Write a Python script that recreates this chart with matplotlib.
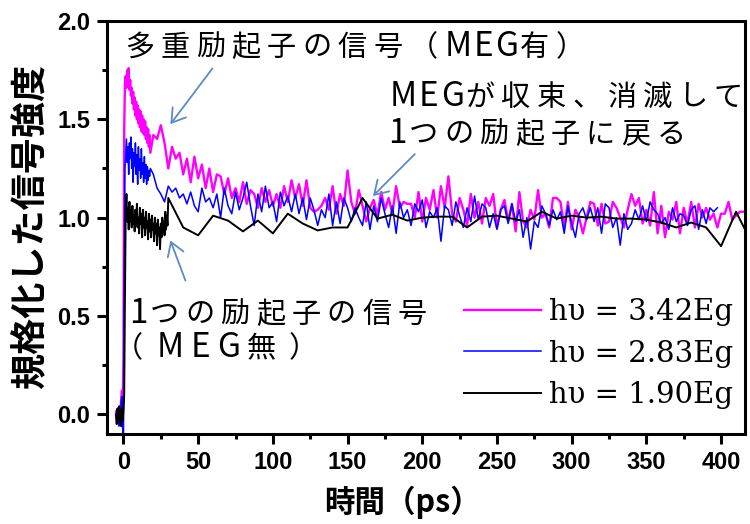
import numpy as np
import matplotlib
matplotlib.use("Agg")
import matplotlib.pyplot as plt
from matplotlib.font_manager import findfont, FontProperties, get_font

plt.rcParams['font.family'] = ['Liberation Sans', 'Noto Sans CJK JP', 'DejaVu Sans']

# ---------------- data ----------------
labels = ["hυ = 3.42Eg", "hυ = 2.83Eg", "hυ = 1.90Eg"]

# dense part (t = -5 ... , step 0.5 ps)
mag_dense = [0.0, 0.02, -0.01, 0.03, 0.0, 0.04, 0.02, 0.08, 0.12, 0.05,
             0.3, 1.45, 1.68, 1.72, 1.66, 1.75, 1.70, 1.76, 1.65, 1.70,
             1.62, 1.66, 1.58, 1.64, 1.55, 1.61, 1.52, 1.59, 1.50, 1.57,
             1.48, 1.55, 1.46, 1.54, 1.44, 1.52, 1.43, 1.50, 1.42, 1.49,
             1.40, 1.46, 1.38, 1.45, 1.36, 1.42, 1.33]
# sparse part (t = 20 ... , step 2.5 ps)
mag_sparse = [1.42, 1.40, 1.47, 1.38, 1.25, 1.36, 1.30, 1.33, 1.22, 1.30,
              1.18, 1.31, 1.20, 1.27, 1.15, 1.25, 1.13, 1.22, 1.21, 1.12,
              1.20, 1.10, 1.15, 1.08, 1.18, 1.07, 1.14, 1.12, 1.05, 1.15,
              1.08, 1.14, 1.06, 1.12, 1.05, 1.16, 1.08, 1.19, 1.10, 1.17,
              1.06, 1.19, 1.05, 1.03, 1.04, 1.06, 1.10, 1.04, 1.16, 1.02,
              1.12, 1.06, 1.24, 1.08, 1.02, 1.14, 1.06, 0.98, 1.05, 1.09,
              1.01, 1.13, 1.04, 1.10, 1.02, 1.16, 1.05, 1.08, 1.07, 1.07,
              1.00, 1.13, 0.98, 1.10, 1.04, 1.14, 1.00, 1.16, 1.05, 1.21,
              1.02, 0.98, 1.10, 1.04, 0.96, 1.12, 1.00, 1.08, 0.97, 1.10,
              1.06, 1.12, 0.95, 1.04, 1.09, 0.98, 1.07, 0.93, 1.13, 0.98,
              0.95, 1.04, 0.99, 1.14, 1.00, 1.02, 0.95, 1.10, 1.10, 1.08,
              0.95, 1.08, 0.94, 1.04, 1.00, 0.92, 1.00, 1.08, 1.07, 0.96,
              1.07, 0.97, 0.98, 1.08, 1.05, 1.00, 0.95, 1.04, 1.12, 1.06,
              1.10, 0.97, 1.04, 0.96, 1.13, 0.92, 1.06, 0.90, 1.03, 0.99,
              1.08, 0.92, 1.05, 0.97, 1.08, 0.95, 1.07, 1.00, 1.05, 0.99,
              1.02, 0.95, 1.02, 1.02, 1.08, 0.99, 1.01, 1.03, 1.03]

blue_dense = [-0.02, 0.01, -0.04, 0.02, -0.06, 0.03, 0.0, 0.07, 0.09, -0.08,
              -0.15, 0.75, 1.25, 1.32, 1.40, 1.28, 1.36, 1.22, 1.38, 1.30,
              1.41, 1.25, 1.35, 1.18, 1.33, 1.26, 1.38, 1.22, 1.32, 1.17,
              1.36, 1.24, 1.30, 1.20, 1.35, 1.22, 1.28, 1.18, 1.31, 1.20,
              1.27, 1.17, 1.26, 1.19, 1.24, 1.21, 1.25]
blue_sparse = [1.22, 1.15, 1.12, 1.08, 1.16, 1.13, 1.15, 1.10, 1.12, 1.07,
               1.13, 1.06, 1.03, 1.15, 1.08, 1.10, 1.05, 1.12, 1.00, 1.15,
               1.06, 1.02, 1.13, 1.04, 1.10, 1.18, 1.06, 0.96, 1.12, 1.03,
               1.16, 1.05, 1.08, 0.98, 1.13, 1.06, 1.11, 1.03, 1.12, 1.02,
               1.10, 0.99, 1.10, 1.04, 0.96, 1.04, 1.00, 1.12, 0.96, 1.08,
               0.97, 1.10, 1.05, 0.98, 1.05, 1.00, 0.96, 1.08, 0.94, 1.06,
               0.98, 1.10, 1.02, 0.95, 1.06, 0.92, 1.08, 1.00, 1.04, 0.96,
               1.07, 1.03, 1.09, 0.95, 1.03, 1.00, 1.05, 0.88, 1.06, 1.04,
               0.96, 1.08, 1.01, 0.95, 1.05, 0.98, 1.11, 0.99, 1.07, 1.05,
               0.95, 1.02, 0.94, 1.04, 1.06, 0.97, 1.07, 0.98, 1.04, 0.90,
               1.00, 0.84, 0.98, 0.95, 1.06, 1.02, 0.96, 1.04, 0.99, 1.03,
               0.92, 1.06, 0.97, 0.90, 1.02, 1.05, 0.99, 1.05, 0.98, 1.05,
               0.92, 1.07, 1.05, 0.95, 1.00, 0.86, 1.02, 0.94, 0.97, 1.04,
               0.99, 1.06, 0.98, 1.08, 1.04, 1.02, 0.97, 1.00, 0.94, 1.05,
               0.98, 1.02, 1.01, 0.96, 1.04, 1.06, 0.94, 1.04, 0.97, 1.05,
               1.03, 1.05]

black_dense = [0.0, -0.05, 0.03, -0.02, 0.04, -0.04, 0.02, -0.06, 0.03, -0.03,
               0.02, 0.1, 0.6, 1.02, 1.12, 0.98, 1.05, 0.94, 1.08, 0.98,
               1.03, 0.95, 1.06, 0.97, 1.01, 0.93, 1.04, 0.96, 1.07, 0.95,
               1.00, 0.92, 1.05, 0.97, 1.02, 0.90, 1.04, 0.95, 1.00, 0.91,
               1.03, 0.95, 0.98, 0.89, 1.02, 0.93, 0.99, 0.90, 1.01, 0.94,
               0.97, 0.88, 1.00, 0.92, 0.97, 0.86, 0.99, 0.91, 0.95, 0.84,
               0.97, 0.90, 1.00, 0.93, 0.98, 0.91, 1.03, 0.94, 1.01, 0.96,
               1.10]
# sparse part (t = 40 ... , step 10 ps)
black_sparse = [0.95, 0.91, 1.01, 0.985, 0.93, 0.985, 0.92, 1.02, 0.97, 0.935,
                0.95, 0.95, 1.10, 0.995, 1.015, 0.985, 1.0, 1.005, 1.005, 0.95,
                1.005, 1.01, 0.995, 0.98, 1.03, 0.995, 1.01, 1.0, 1.005, 0.995,
                0.995, 0.99, 0.975, 0.95, 0.975, 0.95, 0.855, 1.03, 0.88]

def build(dense, t0_dense, dt_dense, sparse, t0_sparse, dt_sparse):
    td = t0_dense + dt_dense * np.arange(len(dense))
    ts = t0_sparse + dt_sparse * np.arange(len(sparse))
    return np.concatenate([td, ts]), np.concatenate([dense, sparse])

t_mag, y_mag = build(mag_dense, -5.0, 0.5, mag_sparse, 20.0, 2.5)
t_blue, y_blue = build(blue_dense, -5.0, 0.5, blue_sparse, 20.0, 2.5)
t_blk, y_blk = build(black_dense, -5.0, 0.5, black_sparse, 40.0, 10.0)

# ---------------- figure ----------------
W, H, DPI = 750, 524, 100
fig = plt.figure(figsize=(W / DPI, H / DPI), dpi=DPI)
ax = fig.add_axes([0.1427, 0.1718, 0.8506, 0.7882])

l1, = ax.plot(t_mag, y_mag, color='#FF00FF', lw=1.7, label=labels[0])
l2, = ax.plot(t_blue, y_blue, color='#0000FF', lw=1.1, label=labels[1])
l3, = ax.plot(t_blk, y_blk, color='black', lw=1.4, label=labels[2])

ax.set_xlim(-11, 416)
ax.set_ylim(-0.1, 2.0)
ax.set_xticks(np.arange(0, 401, 50))
ax.set_xticks(np.arange(25, 401, 50), minor=True)
ax.set_yticks([0.0, 0.5, 1.0, 1.5, 2.0])
ax.set_yticks([0.25, 0.75, 1.25, 1.75], minor=True)
ax.set_yticklabels(['0.0', '0.5', '1.0', '1.5', '2.0'])

for s in ax.spines.values():
    s.set_linewidth(2.2)
ax.tick_params(which='major', direction='out', length=7, width=2.2,
               labelsize=17, pad=5)
ax.tick_params(which='minor', direction='out', length=3.8, width=2.2)
for lab in ax.get_xticklabels() + ax.get_yticklabels():
    lab.set_fontweight('bold')
    lab.set_family('Liberation Sans')

# axis titles
fig.text(402 / W, 1 - 512 / H, '時間（ps）', fontsize=22, fontweight='bold',
         family=['Noto Sans CJK JP'], ha='center', va='baseline')
fig.text(31 / W, 1 - 226 / H, '規格化した信号強度', fontsize=26, fontweight='bold',
         family=['Noto Sans CJK JP'], rotation=90, ha='center', va='center')

# annotations, drawn character by character with extra tracking
CJK = 'Noto Sans CJK JP'
try:
    _font = get_font(findfont(FontProperties(family=CJK)))
except Exception:
    _font = None

def advance_px(ch, size):
    if _font is not None:
        try:
            _font.set_size(size, DPI)
            g = _font.load_char(ord(ch))
            return g.linearHoriAdvance / 65536.0
        except Exception:
            pass
    em = size * DPI / 72.0
    return em if ord(ch) > 0x2000 else 0.6 * em

def tracked_text(x_px, base_px, s, size, extra_px, size_latin=24, extra_latin=2.0):
    x = x_px
    for ch in s:
        latin = ord(ch) < 0x2000
        sz = size_latin if latin else size
        fig.text(x / W, 1 - base_px / H, ch, fontsize=sz, family=[CJK, 'DejaVu Sans'],
                 ha='left', va='baseline')
        x += advance_px(ch, sz) + (extra_latin if latin else extra_px)

afs = 21
trk = 6.3
tracked_text(125, 56, '多重励起子の信号（MEG有）', afs, trk)
tracked_text(390, 106, 'MEGが収束、消滅して', afs, trk)
tracked_text(388, 143, '1つの励起子に戻る', afs, trk)
tracked_text(129, 323, '1つの励起子の信号', afs, trk)
tracked_text(114, 357, '（MEG無）', afs, 13.0, extra_latin=7.0)

acol = '#5B8AC4'
aprops = dict(arrowstyle='->,head_length=0.95,head_width=0.6', color=acol, lw=1.3,
              shrinkA=0, shrinkB=0)
ax.annotate('', xy=(31.4, 1.475), xytext=(59.5, 1.758), arrowprops=aprops)
ax.annotate('', xy=(31.4, 0.884), xytext=(41.5, 0.68), arrowprops=aprops)
ax.annotate('', xy=(167, 1.11), xytext=(195, 1.323), arrowprops=aprops)

leg = ax.legend(handles=[l1, l2, l3], loc='upper left', frameon=False,
                prop={'family': 'DejaVu Serif', 'size': 21},
                handlelength=2.65, handletextpad=0.28, labelspacing=0.47,
                borderpad=0.4, borderaxespad=0.0,
                bbox_to_anchor=(0.5408, 0.3575))

fig.savefig('out.png', dpi=DPI)
